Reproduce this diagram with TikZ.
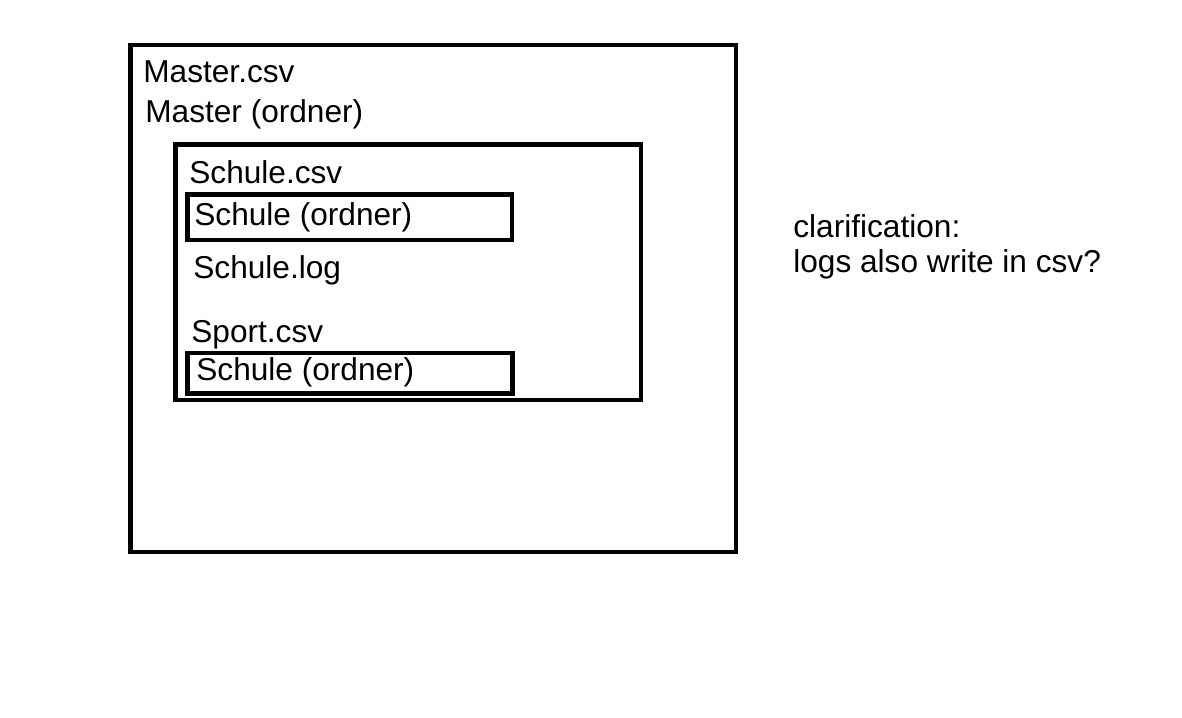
\documentclass[tikz,border=0pt]{standalone}
\usepackage{fontspec}
\setmainfont{Liberation Sans}
\usetikzlibrary{positioning}

\begin{document}
\begin{tikzpicture}[x=0.02cm,y=-0.02cm,
		box/.style={draw,line width=2.6pt},
		txt/.style={anchor=base west,inner sep=0pt,font=\fontsize{18}{21}\selectfont}]
		\useasboundingbox (0,0) rectangle (1182,717);
		% boxes
		\draw[box] (130.5,45) rectangle (736,552);
		\draw[box] (175.5,144.5) rectangle (641,400);
		\draw[box] (187.5,194.5) rectangle (512,240);
		\draw[box] (187.5,353) rectangle (512.5,393.5);
		% texts
		\node[txt] (mcsv) at (143,82) {Master.csv};
		\node[txt] (mdir) at (145,122) {Master (ordner)};
		\node[txt] (scsv) at (189,183.5) {Schule.csv};
		\node[txt] (sdir) at (194,225.5) {Schule (ordner)};
		\node[txt] (slog) at (193,278.5) {Schule.log};
		\node[txt] (spcsv) at (191,342) {Sport.csv};
		\node[txt] (spdir) at (196,380.5) {Schule (ordner)};
		\node[txt] (clar) at (793,237) {clarification:};
		\node[txt] (logs) at (793,272) {logs also write in csv?};
\end{tikzpicture}
\end{document}
